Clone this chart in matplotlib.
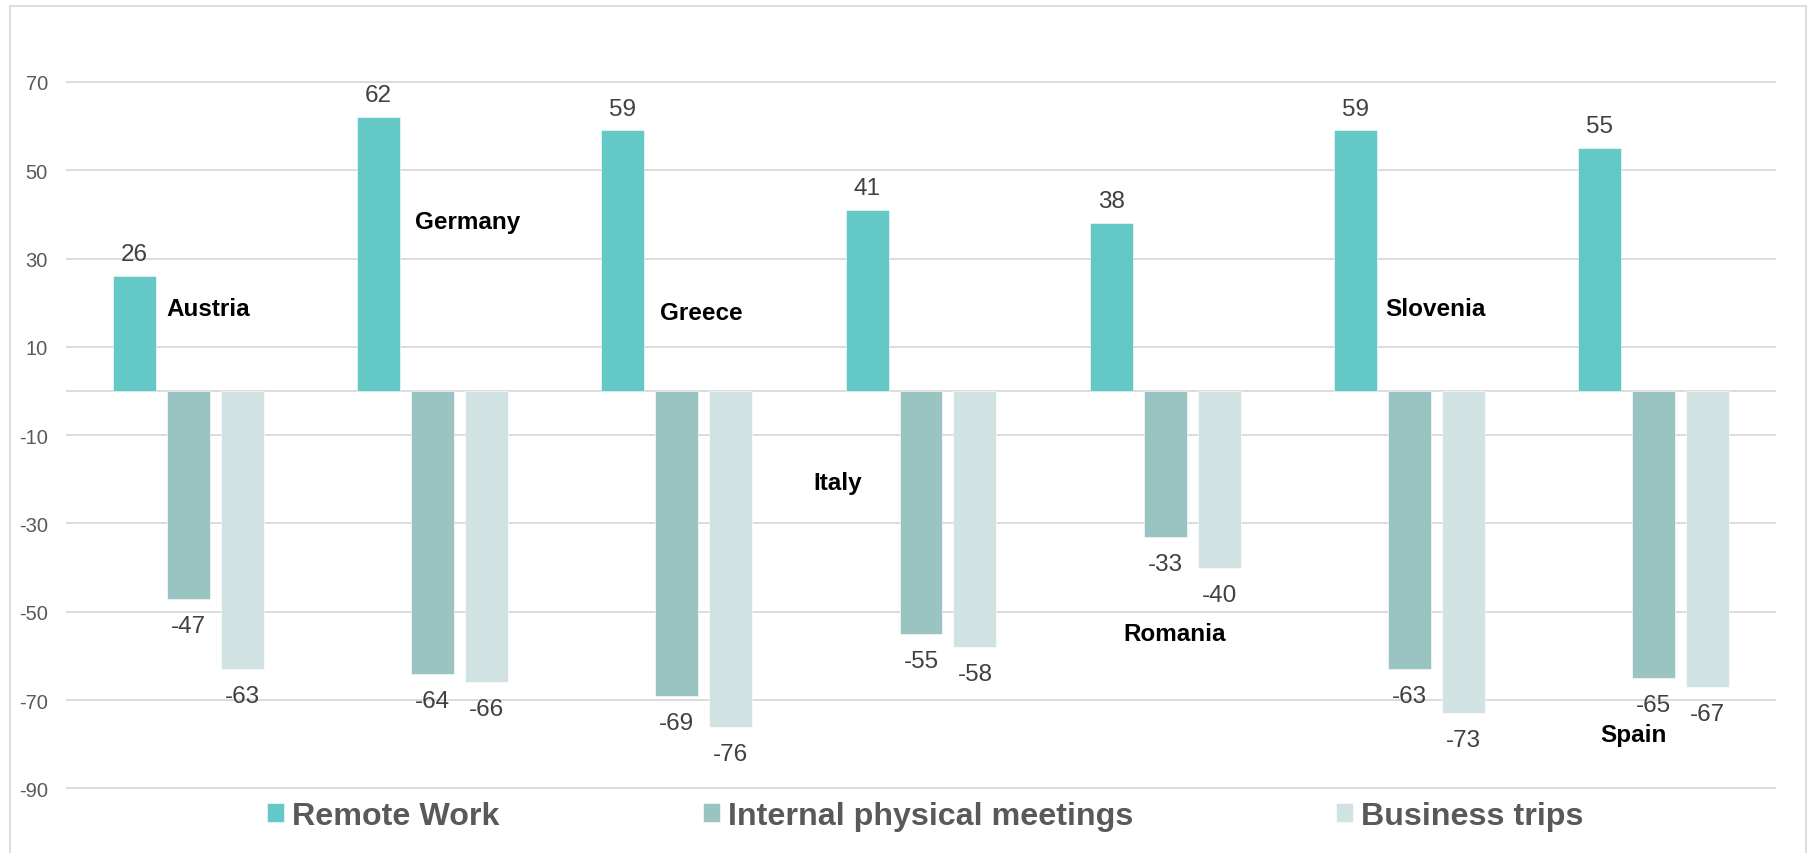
#Remote work vs physical meetings and business trips by country

#importing libraries
import numpy as np
import matplotlib.pyplot as plt

plt.rcParams['font.family'] = ['Liberation Sans', 'DejaVu Sans']
plt.rcParams['axes.unicode_minus'] = False

#data
countries = ["Austria", "Germany", "Greece", "Italy", "Romania", "Slovenia", "Spain"]
remote_work = [26, 62, 59, 41, 38, 59, 55]
internal_meetings = [-47, -64, -69, -55, -33, -63, -65]
business_trips = [-63, -66, -76, -58, -40, -73, -67]
series_names = ["Remote Work", "Internal physical meetings", "Business trips"]
yticks = [70, 50, 30, 10, -10, -30, -50, -70, -90]

#where the country names sit (x offset from category centre, y in data units)
name_pos = [(-0.09, 18.6), (-0.07, 38.3), (-0.07, 17.7), (-0.44, -20.8),
            (-0.17, -55.0), (-0.10, 18.6), (-0.22, -77.7)]

colors = ["#64C8C6", "#99C4C2", "#D0E3E2"]
grey = "#D9D9D9"

fig = plt.figure(figsize=(18.11, 8.54), dpi=100)
ax = fig.add_axes([0.03644, 0.06534, 0.98068 - 0.03644, 0.84789])

x = np.arange(len(countries))
step = 0.221
width = 0.176
all_series = [remote_work, internal_meetings, business_trips]
for k, vals in enumerate(all_series):
    xs = x + (k - 1) * step
    ax.bar(xs, vals, width, color=colors[k], label=series_names[k],
           edgecolor="white", linewidth=0.4, zorder=3)
    for xi, v in zip(xs, vals):
        if v >= 0:
            ax.annotate(str(v), (xi, v), xytext=(0, 11.5), textcoords="offset points",
                        ha="center", va="baseline", fontsize=17.5, color="#404040")
        else:
            ax.annotate(str(v), (xi, v), xytext=(0, -23.8), textcoords="offset points",
                        ha="center", va="baseline", fontsize=17.5, color="#404040")

for i, name in enumerate(countries):
    dx, dy = name_pos[i]
    ax.text(i + dx, dy, name, ha="left", va="center", fontsize=17.5,
            fontweight="bold", color="black", zorder=5)

ax.set_xlim(-0.5, len(countries) - 0.5)
ax.set_ylim(-92, 72)
ax.set_yticks(yticks)
ax.set_xticks([])
ax.tick_params(axis="y", length=0, pad=13, labelsize=14.5, labelcolor="#595959")
ax.grid(axis="y", color=grey, linewidth=1.3, zorder=0)
ax.axhline(0, color=grey, linewidth=1.3, zorder=1)
for s in ax.spines.values():
    s.set_visible(False)

leg = fig.legend(loc="center", bbox_to_anchor=(0.511, 1 - 817 / 854), ncol=3,
                 frameon=False, handlelength=0.53, handleheight=0.53,
                 handletextpad=0.25, columnspacing=6.3,
                 prop={"size": 23.2, "weight": "bold"})
for t in leg.get_texts():
    t.set_color("#595959")

#outer border
fig.patches.append(plt.Rectangle((10 / 1811, -0.01), 1796 / 1811, 1 - 7 / 854 + 0.01,
                                 transform=fig.transFigure, fill=False,
                                 edgecolor=grey, linewidth=1.3))

plt.savefig("out.png", dpi=100)
